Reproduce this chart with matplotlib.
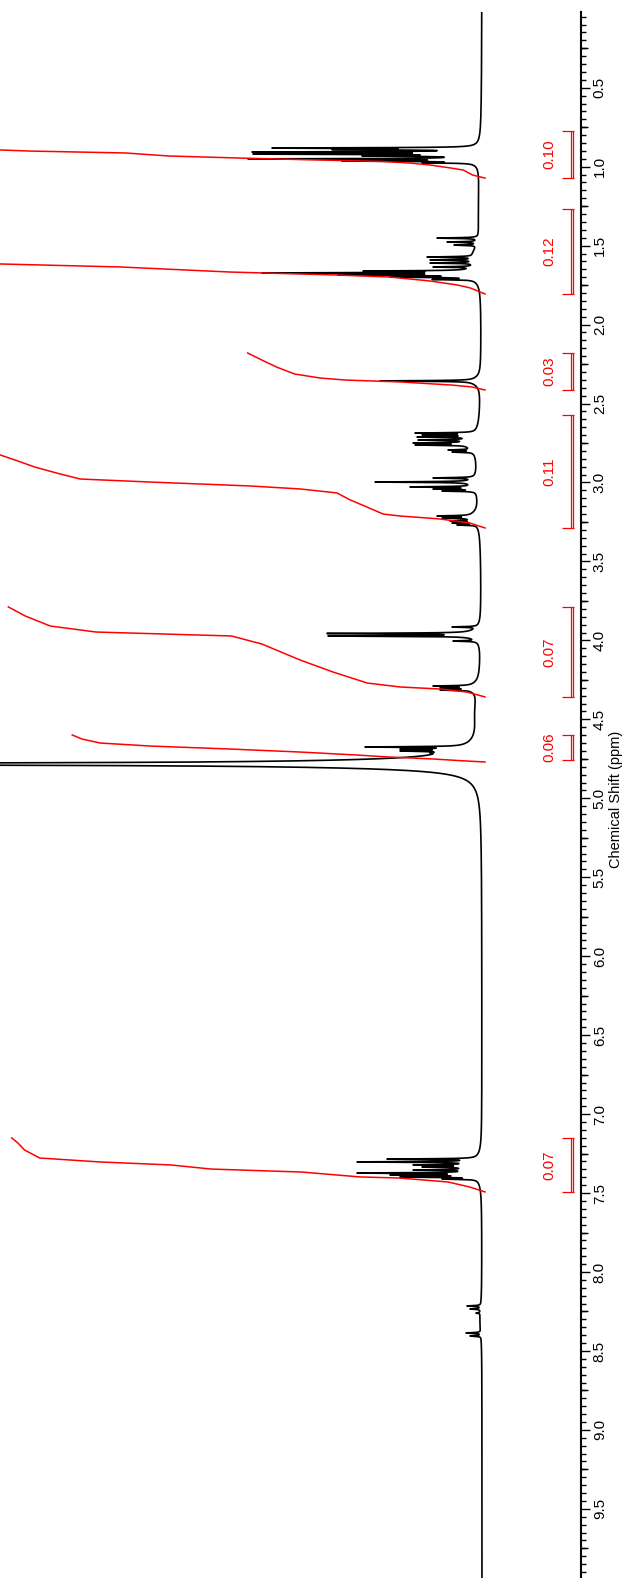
import numpy as np
import matplotlib
matplotlib.use("Agg")
import matplotlib.pyplot as plt
from matplotlib import transforms
from matplotlib.ticker import FixedLocator

plt.rcParams['font.family'] = ['Liberation Sans', 'DejaVu Sans']

# ---------------------------------------------------------------------------
# 1H spectrum: sharp resonances (ppm, apex height above baseline)
# ---------------------------------------------------------------------------
peak_ppm = [
    0.882, 0.891, 0.907, 0.920, 0.932, 0.951, 0.964, 0.975,
    1.452, 1.477, 1.496, 1.572, 1.591, 1.610, 1.635,
    1.661, 1.673, 1.686, 1.699, 1.714,
    2.357,
    2.687, 2.699, 2.712, 2.731, 2.750, 2.762, 2.794, 2.807,
    2.971, 2.997, 3.028, 3.041, 3.054,
    3.212, 3.225, 3.244, 3.257, 3.269,
    3.915, 3.956, 3.972, 4.004,
    4.289, 4.301, 4.314,
    4.675, 4.688, 4.700, 4.713, 4.738,
    4.783,
    7.285, 7.303, 7.322, 7.335, 7.354, 7.373, 7.386, 7.398, 7.411,
    8.215, 8.234, 8.260, 8.386, 8.405,
]
peak_height = [
    210, 150, 230, 229, 120, 234, 140, 60,
    45, 35, 28, 55, 52, 52, 49,
    119, 220, 144, 92, 50,
    102,
    67, 60, 65, 64, 69, 67, 34, 30,
    49, 107, 72, 49, 40,
    45, 40, 32, 30, 25,
    30, 155, 154, 29,
    49, 42, 42,
    117, 82, 82, 52, 62,
    3000,
    95, 125, 69, 60, 69, 125, 92, 82, 40,
    15, 12, 6, 16, 12,
]
LINE_HWHM = 0.0025  # ppm

# broad underlying components (ppm, height, half width in ppm)
broad_ppm = [0.93, 1.25, 1.55, 1.68, 2.36, 2.75, 2.95, 3.00, 3.22,
             3.96, 4.30, 4.45, 4.70, 4.783, 7.34, 8.30]
broad_height = [12, 3, 6, 12, 8, 12, 4, 6, 10,
                12, 10, 5, 15, 228, 15, 2]
broad_hwhm = [0.035, 0.30, 0.05, 0.035, 0.03, 0.05, 0.30, 0.03, 0.035,
              0.03, 0.03, 0.15, 0.03, 0.0253, 0.045, 0.10]

# ---------------------------------------------------------------------------
# Integrals: region limits (ppm), values and the running-integral trace
# (fraction of the region total accumulated, from high to low ppm)
# ---------------------------------------------------------------------------
int_lo = [0.774, 1.268, 2.180, 2.572, 3.788, 4.599, 7.151]
int_hi = [1.072, 1.806, 2.414, 3.288, 4.358, 4.758, 7.493]
int_value = [0.10, 0.12, 0.0349, 0.11, 0.0701, 0.0607, 0.0696]

int1_ppm = [0.774, 0.882, 0.894, 0.901, 0.913, 0.932, 0.945, 0.954, 0.967,
            0.977, 0.989, 1.008, 1.021, 1.053, 1.072]
int1_frac = [1.0, 0.76, 0.713, 0.669, 0.529, 0.466, 0.363, 0.279, 0.150,
             0.110, 0.081, 0.051, 0.032, 0.018, 0.0]

int2_ppm = [1.268, 1.45, 1.616, 1.635, 1.667, 1.686, 1.699, 1.724, 1.749,
            1.768, 1.806]
int2_frac = [1.0, 0.85, 0.594, 0.447, 0.313, 0.181, 0.116, 0.067, 0.034,
             0.018, 0.0]

int3_ppm = [2.180, 2.224, 2.269, 2.313, 2.338, 2.351, 2.363, 2.383, 2.395,
            2.414]
int3_frac = [1.0, 0.941, 0.878, 0.802, 0.696, 0.591, 0.359, 0.139, 0.055,
             0.0]

int4_ppm = [2.572, 2.70, 2.826, 2.858, 2.902, 2.946, 2.978, 2.997, 3.022,
            3.041, 3.066, 3.111, 3.155, 3.200, 3.212, 3.231, 3.257, 3.288]
int4_frac = [1.0, 0.85, 0.648, 0.628, 0.602, 0.568, 0.541, 0.448, 0.314,
             0.247, 0.198, 0.180, 0.158, 0.136, 0.114, 0.060, 0.020, 0.0]

int5_ppm = [3.788, 3.846, 3.909, 3.947, 3.972, 4.023, 4.124, 4.200, 4.270,
            4.295, 4.308, 4.327, 4.358]
int5_frac = [1.0, 0.964, 0.912, 0.816, 0.532, 0.468, 0.388, 0.319, 0.247,
             0.178, 0.094, 0.038, 0.0]

int6_ppm = [4.599, 4.625, 4.650, 4.669, 4.688, 4.707, 4.726, 4.738, 4.751,
            4.764, 4.770]
int6_frac = [1.0, 0.976, 0.932, 0.811, 0.617, 0.448, 0.310, 0.237, 0.126,
             0.044, 0.0]

int7_ppm = [7.151, 7.183, 7.227, 7.278, 7.303, 7.322, 7.348, 7.367, 7.398,
            7.405, 7.417, 7.430, 7.462, 7.493]
int7_frac = [1.0, 0.987, 0.973, 0.941, 0.814, 0.664, 0.579, 0.387, 0.264,
             0.180, 0.131, 0.078, 0.032, 0.0]

int_curves = [(int1_ppm, int1_frac), (int2_ppm, int2_frac),
              (int3_ppm, int3_frac), (int4_ppm, int4_frac),
              (int5_ppm, int5_frac), (int6_ppm, int6_frac),
              (int7_ppm, int7_frac)]

INT_SCALE = 6800.0   # plot units per integral unit
INT_OFFSET = -3.0    # integral trace zero level

major_ticks = np.arange(0.5, 9.75, 0.5)
mid_ticks = np.arange(0.25, 10.0, 0.5)
minor_ticks = np.arange(0.05, 10.0, 0.05)

RED = '#ff0000'


# ---------------------------------------------------------------------------
# Build spectrum: Lorentzian lines whose summed apexes hit the listed heights
# ---------------------------------------------------------------------------
def lorentz(x, centre, height, hwhm):
    return height * hwhm**2 / ((x - centre)**2 + hwhm**2)


pk = np.asarray(peak_ppm)
broad_at_pk = np.zeros_like(pk)
for p, h, w in zip(broad_ppm, broad_height, broad_hwhm):
    broad_at_pk += lorentz(pk, p, h, w)
overlap = LINE_HWHM**2 / ((pk[:, None] - pk[None, :])**2 + LINE_HWHM**2)
amp = np.linalg.solve(overlap, np.asarray(peak_height) - broad_at_pk)
amp = np.clip(amp, 0, None)

ppm = np.linspace(0.0, 10.0, 40001)
spec = np.zeros_like(ppm)
for p, a in zip(pk, amp):
    spec += lorentz(ppm, p, a, LINE_HWHM)
for p, h, w in zip(broad_ppm, broad_height, broad_hwhm):
    spec += lorentz(ppm, p, h, w)

# ---------------------------------------------------------------------------
# Figure
# ---------------------------------------------------------------------------
W, H = 630, 1578
fig = plt.figure(figsize=(W / 100, H / 100), dpi=100)
ppm_top = 0.0171
ppm_bot = 10.0
px_per_ppm = 157.9
top_px = 11.5
bot_px = top_px + (ppm_bot - ppm_top) * px_per_ppm
ax = fig.add_axes([0, 1 - bot_px / H, 581 / W, (bot_px - top_px) / H])

ax.plot(spec, ppm, color='black', lw=1.2, zorder=2)

for (cp, cf), v in zip(int_curves, int_value):
    cp = np.asarray(cp)
    cf = np.asarray(cf)
    ax.plot(INT_OFFSET + cf * v * INT_SCALE, cp, color=RED, lw=1.1, zorder=3)

ax.set_xlim(482, -99)
ax.set_ylim(ppm_bot, ppm_top)

for s in ('left', 'top', 'bottom'):
    ax.spines[s].set_visible(False)
ax.spines['right'].set_linewidth(1.5)
ax.xaxis.set_visible(False)
ax.yaxis.tick_right()
ax.set_yticks(major_ticks)
ax.set_yticklabels([f"{t:.1f}" for t in major_ticks], rotation=90,
                   va='center')
ax.yaxis.set_minor_locator(FixedLocator(minor_ticks))
ax.tick_params(axis='y', which='major', length=6.5, width=1.0,
               direction='out', pad=2, labelsize=11)
ax.tick_params(axis='y', which='minor', length=3.6, width=1.0,
               direction='out')

sec = ax.secondary_yaxis('right')
sec.set_yticks(mid_ticks)
sec.set_yticklabels([])
sec.tick_params(axis='y', which='major', length=5.0, width=1.0,
                direction='out')
sec.spines['right'].set_visible(False)

ax.set_ylabel("Chemical Shift (ppm)", fontsize=10.5, rotation=90)
ax.yaxis.set_label_position('right')
ax.yaxis.set_label_coords(609 / 581, 0.5)

# integral brackets and values
blend = transforms.blended_transform_factory(ax.transAxes, ax.transData)
for lo, hi, v in zip(int_lo, int_hi, int_value):
    for yy in (lo, hi):
        ax.plot([562 / 581, 574 / 581], [yy, yy], color=RED, lw=0.9,
                transform=blend, clip_on=False, solid_capstyle='butt')
    for xx in (570.7 / 581, 573.3 / 581):
        ax.plot([xx, xx], [lo, hi], color=RED, lw=0.9, transform=blend,
                clip_on=False, solid_capstyle='butt')
    ax.text(549 / 581, (lo + hi) / 2, f"{v:.2f}", color=RED, fontsize=11,
            rotation=90, ha='center', va='center', transform=blend)

fig.savefig("out.png", dpi=100)
